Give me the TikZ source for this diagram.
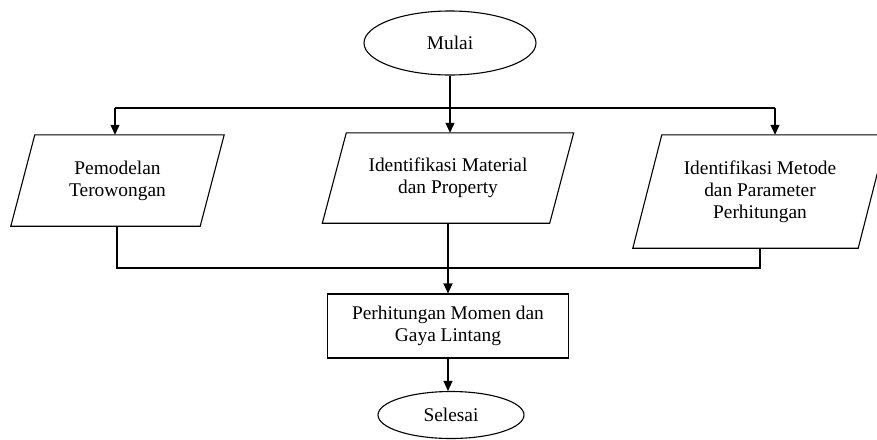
\documentclass[tikz,border=0pt]{standalone}
\usepackage{fontspec}
\setmainfont{Liberation Serif}
\usetikzlibrary{arrows.meta,shapes.geometric}
\begin{document}
\begin{tikzpicture}[x=1pt,y=-1pt,
  every node/.style={font=\fontsize{19.4}{22}\selectfont, align=center, inner sep=0pt},
  line/.style={line width=1.1pt, draw=black},
  arr/.style={line, -{Triangle[length=10pt,width=9pt]}},
  term/.style={ellipse, draw, line width=1.1pt},
  proc/.style={rectangle, draw, line width=1.1pt},
  iobox/.style={rectangle}]
\useasboundingbox (0,0) rectangle (877,439);
% nodes
\node[term, minimum width=172pt, minimum height=64pt] (mulai) at (450,43) {Mulai};
\node[iobox, minimum width=189pt, minimum height=91pt] (p1) at (117.5,180.5) {Pemodelan\\Terowongan};
\node[iobox, minimum width=227pt, minimum height=90pt] (p2) at (448,178) {Identifikasi Material\\dan Property};
\node[iobox, minimum width=225pt, minimum height=113pt] (p3) at (760,191.5) {Identifikasi Metode\\dan Parameter\\Perhitungan};
\node[proc, minimum width=241pt, minimum height=64pt] (hasil) at (448,326) {Perhitungan Momen dan\\Gaya Lintang};
\node[term, minimum width=146pt, minimum height=47pt] (selesai) at (451,415) {Selesai};
% parallelogram outlines
\draw[line] ([xshift=12pt]p1.north west) -- ([xshift=12pt]p1.north east) -- ([xshift=-12pt]p1.south east) -- ([xshift=-12pt]p1.south west) -- cycle;
\draw[line] ([xshift=12pt]p2.north west) -- ([xshift=12pt]p2.north east) -- ([xshift=-12pt]p2.south east) -- ([xshift=-12pt]p2.south west) -- cycle;
\draw[line] ([xshift=14.5pt]p3.north west) -- ([xshift=14.5pt]p3.north east) -- ([xshift=-14.5pt]p3.south east) -- ([xshift=-14.5pt]p3.south west) -- cycle;
% branching
\coordinate (bl) at (115,108);
\coordinate (br) at (775,108);
\draw[line] (bl) -- (br);
\draw[arr] (mulai.south) -- (mulai.south |- p2.north);
\draw[arr] (bl) -- (bl |- p1.north);
\draw[arr] (br) -- (br |- p3.north);
% joining
\coordinate (jl) at (117,268);
\coordinate (jr) at (760,268);
\draw[line] (jl |- p1.south) -- (jl) -- (jr) -- (jr |- p3.south);
\draw[arr] (p2.south) -- (p2.south |- hasil.north);
\draw[arr] (hasil.south) -- (hasil.south |- selesai.north);
\end{tikzpicture}
\end{document}
